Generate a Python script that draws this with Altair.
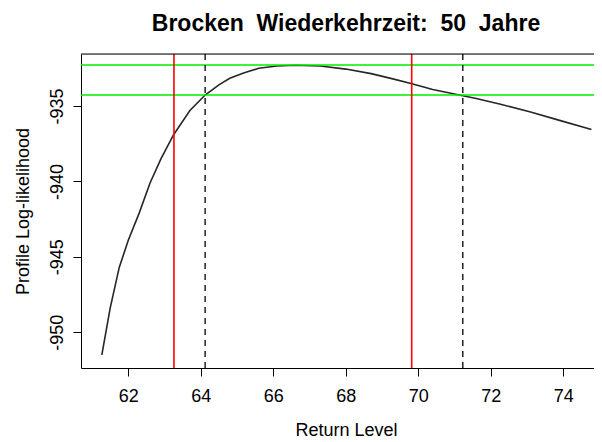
import altair as alt
import pandas as pd

# Profile log-likelihood curve
return_level = [61.27, 61.5, 61.75, 62.0, 62.3, 62.6, 62.9, 63.25, 63.7, 64.12,
                64.5, 64.8, 65.2, 65.6, 66.1, 66.6, 67.3, 68.0, 68.7, 69.3,
                69.8, 70.4, 71.2, 71.6, 72.3, 73.1, 73.9, 74.78]
profile_loglik = [-951.5, -948.4, -945.7, -943.9, -942.1, -940.1, -938.5, -936.9, -935.3, -934.27,
                  -933.6, -933.16, -932.8, -932.5, -932.35, -932.3, -932.35, -932.55, -932.85, -933.2,
                  -933.5, -933.9, -934.3, -934.5, -934.9, -935.4, -935.95, -936.55]

green_levels = [-932.28, -934.27]      # max log-likelihood and cut-off
red_levels = [63.26, 69.82]            # normal-approximation interval
dashed_levels = [64.12, 71.23]         # profile-likelihood interval

x_ticks = [62, 64, 66, 68, 70, 72, 74]
y_ticks = [-935, -940, -945, -950]
x_domain = [60.695, 74.85]
y_domain = [-952.37, -931.55]

W, H = 513, 314
FONT = "Liberation Sans"
NB = "\u00a0"
TITLE = f"Brocken{NB}{NB}Wiederkehrzeit:{NB}{NB}50{NB}{NB}Jahre"

curve_df = pd.DataFrame({"rl": return_level, "ll": profile_loglik})
green_df = pd.DataFrame({"ll": green_levels})
red_df = pd.DataFrame({"rl": red_levels})
dash_df = pd.DataFrame({"rl": dashed_levels})

xs = alt.Scale(domain=x_domain, nice=False, zero=False)
ys = alt.Scale(domain=y_domain, nice=False, zero=False)

x_axis = alt.Axis(values=x_ticks, title="Return Level", grid=False, tickSize=8,
                  labelAngle=0, labelBaseline="alphabetic", labelPadding=25.5,
                  labelFontSize=18, labelFont=FONT, titleFontSize=18, titleFont=FONT,
                  titleFontWeight="normal", titleX=265, titleY=67, titleAlign="center",
                  titleBaseline="alphabetic", labelFlush=False, labelOverlap=False,
                  domainColor="black", tickColor="black", labelColor="black", titleColor="black")
y_axis = alt.Axis(values=y_ticks, title="Profile Log-likelihood", grid=False, tickSize=8,
                  labelExpr="'' + datum.value",
                  labelAngle=270, labelAlign="center", labelBaseline="alphabetic", labelPadding=11,
                  labelFontSize=18, labelFont=FONT, titleFontSize=18, titleFont=FONT,
                  titleFontWeight="normal", titleAngle=270, titleX=-53, titleY=157,
                  titleAlign="center", titleBaseline="alphabetic", labelFlush=False,
                  labelOverlap=False, domainColor="black", tickColor="black",
                  labelColor="black", titleColor="black")

X = alt.X("rl:Q", scale=xs, axis=x_axis, title="Return Level")
Y = alt.Y("ll:Q", scale=ys, axis=y_axis, title="Profile Log-likelihood")

curve = alt.Chart(curve_df).mark_line(color="#262626", strokeWidth=1.6).encode(x=X, y=Y)
green = alt.Chart(green_df).mark_rule(color="#00ee00", strokeWidth=1.6).encode(y=Y)
red = alt.Chart(red_df).mark_rule(color="#ff0000", strokeWidth=1.6).encode(x=X)
dashed = alt.Chart(dash_df).mark_rule(color="black", strokeWidth=1.3, strokeDash=[6, 5]).encode(x=X)
top_border = alt.Chart(pd.DataFrame({"a": [0]})).mark_rule(color="black", strokeWidth=1).encode(
    x=alt.value(0), x2=alt.value(W), y=alt.value(0)
)

chart = alt.layer(curve, green, red, dashed, top_border).properties(
    width=W, height=H,
    title=alt.TitleParams(text=TITLE, font=FONT, fontSize=23,
                          fontWeight="bold", color="black", anchor="middle", frame="group",
                          baseline="alphabetic", offset=23, dx=8.5, dy=24),
    autosize=alt.AutoSizeParams(type="none"),
    padding={"left": 73, "top": 46, "right": 0, "bottom": 74},
).configure_view(stroke=None).configure(background="white")

chart.save("out.html", embed_options={"renderer": "svg", "actions": False})
